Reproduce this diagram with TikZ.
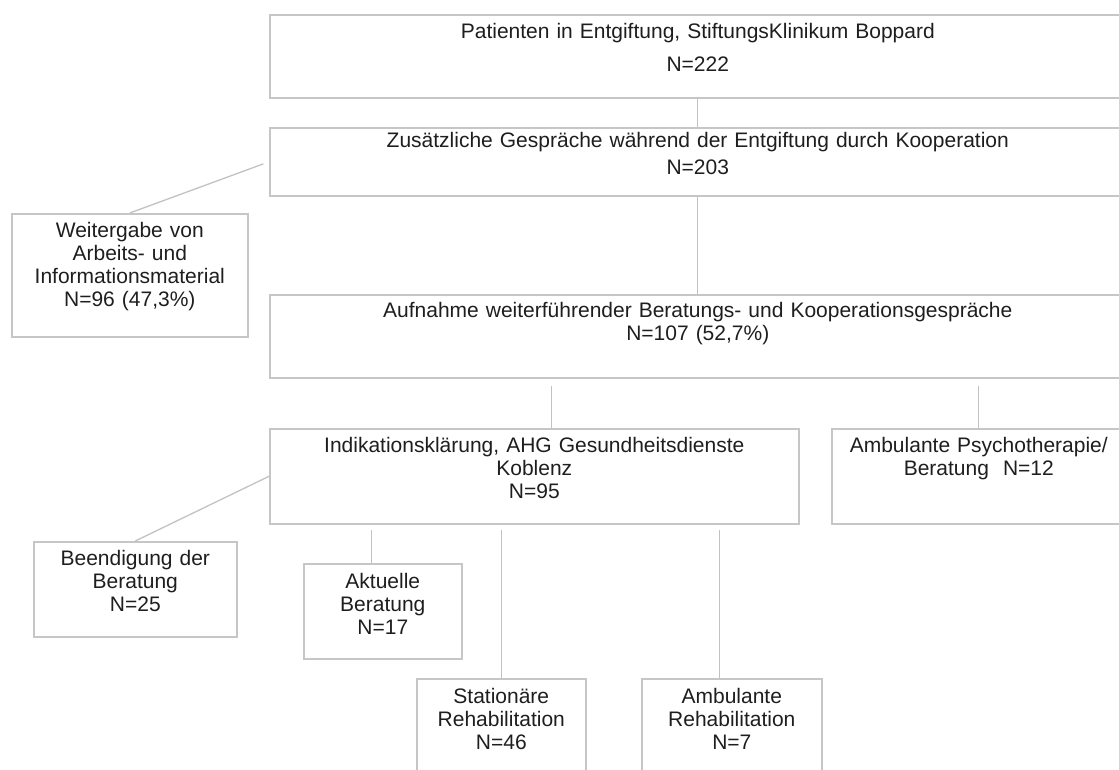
\documentclass[tikz,border=0pt]{standalone}
\usepackage{fontspec}
\setmainfont{Liberation Sans}
\definecolor{boxgray}{HTML}{C6C6C6}
\definecolor{linegray}{HTML}{C2C2C2}
\definecolor{txtgray}{HTML}{1E1E1E}

\begin{document}
\begin{tikzpicture}[x=1pt,y=-1pt,
                    every node/.style={anchor=north west,inner sep=0pt,text=txtgray,align=center,
                                       font=\fontsize{21}{23}\selectfont},
                    box/.style={draw=boxgray,line width=1.6pt,text height=24pt},
                    link/.style={draw=linegray,line width=1.3pt}]
                \useasboundingbox (0,0) rectangle (1119,770);
                \node [box,text width=856pt,text depth=59pt,font=\fontsize{21}{33}\selectfont] (0) at (269,14)
                      {Patienten in Entgiftung, StiftungsKlinikum Boppard\\N=222};
                \node [box,text width=856pt,text height=20pt,text depth=48pt,font=\fontsize{21}{27}\selectfont] (1) at (269,127)
                      {Zusätzliche Gespräche während der Entgiftung durch Kooperation\\N=203};
                \node [box,text width=236pt,text depth=99pt] (2) at (11,213)
                      {Weitergabe von\\Arbeits- und\\Informationsmaterial\\N=96 (47,3\%)};
                \node [box,text width=856pt,text height=23pt,text depth=60pt] (3) at (269,294)
                      {Aufnahme weiterführender Beratungs- und Kooperationsgespräche\\N=107 (52,7\%)};
                \node [box,text width=529pt,text depth=71pt] (4) at (269,428)
                      {Indikationsklärung, AHG Gesundheitsdienste\\Koblenz\\N=95};
                \node [box,text width=294pt,text depth=71pt] (5) at (831,428)
                      {Ambulante Psychotherapie/\\Beratung\ \ N=12};
                \node [box,text width=203pt,text depth=71pt] (6) at (33,541)
                      {Beendigung der\\Beratung\\N=25};
                \node [box,text width=158pt,text height=25pt,text depth=70pt] (7) at (303,563)
                      {Aktuelle\\Beratung\\N=17};
                \node [box,text width=169pt,text height=25pt,text depth=90pt] (8) at (416,678)
                      {Stationäre\\Rehabilitation\\N=46};
                \node [box,text width=180pt,text height=25pt,text depth=90pt] (9) at (641,678)
                      {Ambulante\\Rehabilitation\\N=7};
                \path   (0) edge [link] (1)
                        (1) edge [link] (3)
                        (1.west) edge [link,shorten <=6pt] (2.north)
                        ([xshift=17pt]4.north |- 3.south) edge [link,shorten <=7pt] ([xshift=17pt]4.north)
                        (5.north |- 3.south) edge [link,shorten <=7pt] (5.north)
                        (4.west) edge [link] (6.north)
                        ([xshift=-11pt]7.north |- 4.south) edge [link,shorten <=5pt] ([xshift=-11pt]7.north)
                        (8.north |- 4.south) edge [link,shorten <=5pt] (8.north)
                        ([xshift=-12pt]9.north |- 4.south) edge [link,shorten <=5pt] ([xshift=-12pt]9.north);
            \end{tikzpicture}
\end{document}
